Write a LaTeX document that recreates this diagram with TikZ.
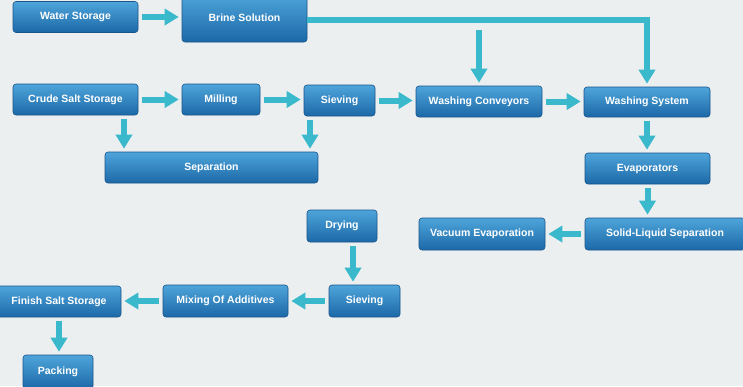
\documentclass[tikz,border=0pt]{standalone}
\usepackage{fontspec}
\setmainfont{Liberation Sans}
\usetikzlibrary{arrows.meta,calc}
\definecolor{bg}{RGB}{236,239,240}
\definecolor{boxtop}{RGB}{78,165,218}
\definecolor{boxbot}{RGB}{28,104,168}
\definecolor{boxedge}{RGB}{25,85,140}
\definecolor{flowc}{RGB}{58,184,204}
\begin{document}
\begin{tikzpicture}[x=1pt,y=-1pt,
  box/.style={rounded corners=3pt, top color=boxtop, bottom color=boxbot, draw=boxedge, line width=0.6pt,
    text=white, font=\bfseries\fontsize{10.5}{12}\selectfont, inner sep=0pt, minimum height=31pt},
  flow/.style={draw=flowc, line width=6pt, -{Triangle[width=16pt,length=14pt]}, shorten >=3pt, shorten <=4pt}]
\useasboundingbox (0,0) rectangle (743,386);
\clip (0,0) rectangle (743,386);
\fill[bg] (0,0) rectangle (743,386);

\node[box, minimum width=125pt] (water) at (75.5,17) {Water Storage};
\node[box, minimum width=125pt, minimum height=48pt] (brine) at (244.5,18) {Brine Solution};
\node[box, minimum width=125pt] (crude) at (75.5,99.5) {Crude Salt Storage};
\node[box, minimum width=78pt] (milling) at (221,99.5) {Milling};
\node[box, minimum width=71pt] (sieve1) at (339.5,100.5) {Sieving};
\node[box, minimum width=126pt] (wconv) at (479,101.5) {Washing Conveyors};
\node[box, minimum width=126pt, minimum height=30pt] (wsys) at (647,102) {Washing System};
\node[box, minimum width=213pt] (sep) at (211.5,167.5) {Separation};
\node[box, minimum width=125pt] (evap) at (647.5,168.5) {Evaporators};
\node[box, minimum width=160pt, minimum height=32pt] (sls) at (665,234) {Solid-Liquid Separation};
\node[box, minimum width=126pt, minimum height=32pt] (vac) at (482,234) {Vacuum Evaporation};
\node[box, minimum width=70pt, minimum height=32pt] (dry) at (342,226) {Drying};
\node[box, minimum width=71pt, minimum height=32pt] (sieve2) at (364.5,301) {Sieving};
\node[box, minimum width=125pt, minimum height=32pt] (mix) at (225.5,301) {Mixing Of Additives};
\node[box, minimum width=124pt] (finish) at (59,301.5) {Finish Salt Storage};
\node[box, minimum width=70pt, minimum height=34pt] (pack) at (58,372) {Packing};

\coordinate (tap) at (479,30);
\coordinate (c1) at (124,0);
\coordinate (c2) at (310,0);
\coordinate (c3) at (353,0);

\draw[flow] (water.east) -- (water.east -| brine.west);
\draw[flow, shorten <=0pt] ([yshift=-2pt]brine.east) -| (wsys.north);
\draw[flow, shorten <=0pt] (tap) -- (wconv.north);
\draw[flow] (crude.east) -- (milling.west);
\draw[flow] (milling.east) -- (milling.east -| sieve1.west);
\draw[flow] (sieve1.east) -- (sieve1.east -| wconv.west);
\draw[flow] (wconv.east) -- (wconv.east -| wsys.west);
\draw[flow] (crude.south -| c1) -- (sep.north -| c1);
\draw[flow] (sieve1.south -| c2) -- (sep.north -| c2);
\draw[flow] (wsys.south) -- (wsys.south |- evap.north);
\draw[flow] (evap.south) -- (evap.south |- sls.north);
\draw[flow] (sls.west) -- (vac.east);
\draw[flow] (dry.south -| c3) -- (sieve2.north -| c3);
\draw[flow] (sieve2.west) -- (mix.east);
\draw[flow] (mix.west) -- (mix.west -| finish.east);
\draw[flow] (finish.south) -- (finish.south |- pack.north);
\end{tikzpicture}
\end{document}
